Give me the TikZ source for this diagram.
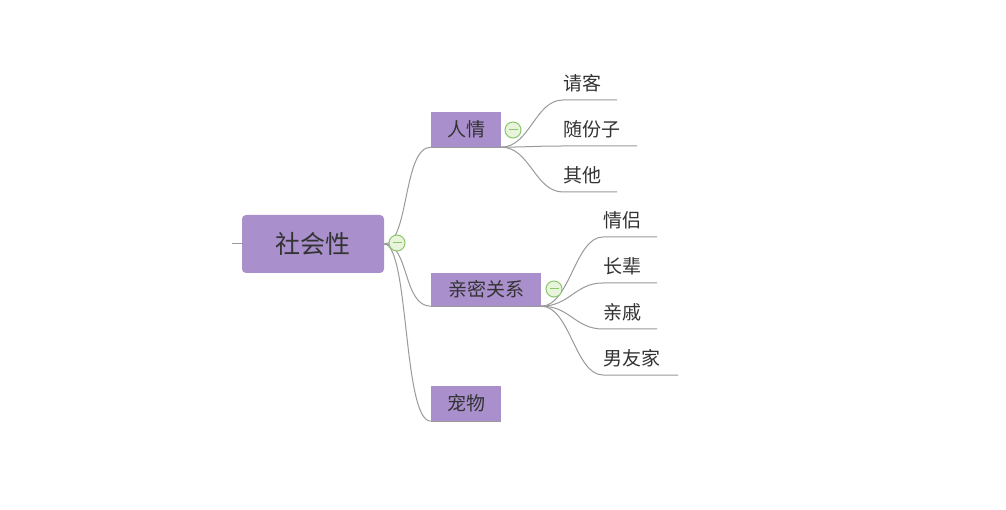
\documentclass[tikz,border=0pt]{standalone}
\usepackage{fontspec}
\setmainfont{Noto Sans CJK SC}
\definecolor{topicfill}{HTML}{A98FCB}
\definecolor{linegray}{HTML}{9A9A9A}
\definecolor{textgray}{HTML}{333333}
\definecolor{knobgreen}{HTML}{8CC66A}
\definecolor{knobfill}{HTML}{E8F5DC}
\tikzset{
  topic/.style={fill=topicfill,text=textgray,inner sep=0pt,font=\fontsize{19}{19}\selectfont},
  leaf/.style={text=textgray,inner sep=0pt,font=\fontsize{19}{19}\selectfont},
  branch/.style={draw=linegray,line width=1pt},
  knob/.style={circle,draw=knobgreen,fill=knobfill,line width=1pt,minimum size=16pt,inner sep=0pt}
}
\newcommand{\knobmark}[1]{\draw[knobgreen,line width=1pt] ([xshift=-4.5pt]#1.center) -- ([xshift=4.5pt]#1.center);}
\begin{document}
\begin{tikzpicture}[x=1pt,y=-1pt]
\useasboundingbox[fill=white] (0,0) rectangle (1006,510);
% root
\node[topic,rounded corners=4pt,minimum width=142pt,minimum height=58pt,font=\fontsize{25}{25}\selectfont] (root) at (313,244) {社会性};
\draw[branch] (232,244) -- (root.west);
% main topics
\node[topic,minimum width=70pt,minimum height=35pt] (renqing) at (466,129.5) {人情};
\node[topic,minimum width=110pt,minimum height=33pt] (qinmi) at (486,289.5) {亲密关系};
\node[topic,minimum width=70pt,minimum height=35pt] (chongwu) at (466,403.5) {宠物};
\foreach \t in {renqing,qinmi,chongwu}{
  \draw[branch] (root.east) .. controls +(25,0) and +(-28,0) .. (\t.south west);
  \draw[branch] (\t.south west) -- (\t.south east);
}
% leaves of renqing
\foreach \n/\txt/\y/\w in {qingke/请客/100/54,suifen/随份子/146/74,qita/其他/192/54}{
  \coordinate (\n s) at (563,\y);
  \coordinate (\n e) at (563+\w,\y);
  \node[leaf,anchor=south west] (\n) at (563,\y-8) {\txt};
  \draw[branch] (renqing.south east) .. controls (530,147) and (535,\y) .. (\n s) -- (\n e);
}
% leaves of qinmi
\foreach \n/\txt/\y/\w in {qinglv/情侣/237/54,zhangbei/长辈/283/54,qinqi/亲戚/329/54,nanyou/男友家/375/75}{
  \coordinate (\n s) at (603,\y);
  \coordinate (\n e) at (603+\w,\y);
  \node[leaf,anchor=south west] (\n) at (603,\y-8) {\txt};
  \draw[branch] (qinmi.south east) .. controls (570,306) and (575,\y) .. (\n s) -- (\n e);
}
% collapse knobs
\node[knob] (k0) at (397,243) {}; \knobmark{k0}
\node[knob] (k1) at (513,130) {}; \knobmark{k1}
\node[knob] (k2) at (554,289) {}; \knobmark{k2}
\end{tikzpicture}
\end{document}
